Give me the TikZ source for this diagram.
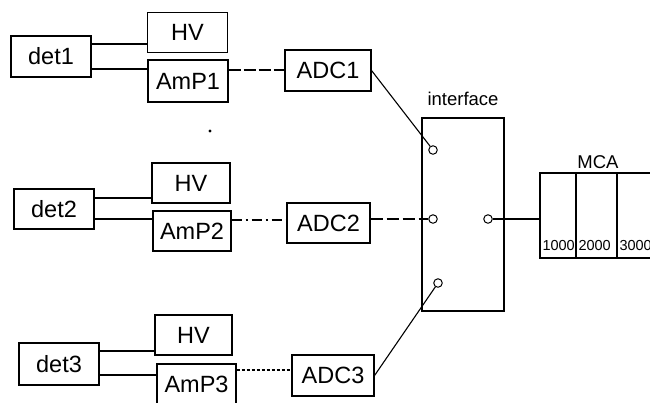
\documentclass[tikz,border=0pt]{standalone}
\usepackage{fontspec}
\setmainfont{Liberation Sans}
\begin{document}
\begin{tikzpicture}[x=1pt,y=-1pt,line width=1.1pt,
  blk/.style={draw,rectangle,inner sep=0pt,font=\fontsize{23.5}{28}\selectfont},
  port/.style={draw,circle,inner sep=0pt,minimum size=8.5pt,line width=1pt},
  lbl/.style={inner sep=0pt,font=\fontsize{18.5}{22}\selectfont},
  num/.style={inner sep=0pt,anchor=base west,font=\fontsize{14.5}{17}\selectfont}]
\useasboundingbox (0,0) rectangle (650,402);
% row 1
\node[blk,minimum width=80pt,minimum height=41pt] (det1) at (51,56.5) {det1};
\node[blk,minimum width=80pt,minimum height=40pt] (hv1) at (187.5,32.5) {HV};
\node[blk,minimum width=80pt,minimum height=42pt] (amp1) at (188,81) {AmP1};
\node[blk,minimum width=86pt,minimum height=41pt] (adc1) at (328,70.5) {ADC1};
% row 2
\node[blk,minimum width=80pt,minimum height=40pt] (det2) at (54,209) {det2};
\node[blk,minimum width=78pt,minimum height=40pt] (hv2) at (191,183) {HV};
\node[blk,minimum width=78pt,minimum height=40pt] (amp2) at (192,231) {AmP2};
\node[blk,minimum width=83pt,minimum height=40pt] (adc2) at (328.5,223) {ADC2};
% row 3
\node[blk,minimum width=80pt,minimum height=42pt] (det3) at (59,364) {det3};
\node[blk,minimum width=77pt,minimum height=40pt] (hv3) at (193.5,335) {HV};
\node[blk,minimum width=79pt,minimum height=40pt] (amp3) at (196.5,384) {AmP3};
\node[blk,minimum width=82pt,minimum height=41pt] (adc3) at (333,375.5) {ADC3};
% stray dot
\fill (210,131) circle (1.6pt);
% interface
\node[draw,rectangle,minimum width=82pt,minimum height=193pt] (intf) at (463,214.5) {};
\node[lbl] (intfl) at (463,99) {interface};
\node[port] (c1) at (433,150) {};
\node[port] (c2) at (433,219) {};
\node[port] (c3) at (488,219) {};
\node[port] (c4) at (438,283) {};
% MCA
\node[draw,rectangle,minimum width=140pt,minimum height=85pt] (mca) at (610,215.5) {};
\node[lbl] (mcal) at (598,162) {MCA};
\draw (576,173) -- (576,258) (617,173) -- (617,258);
\node[num] (n1) at (542,250) {1000};
\node[num] (n2) at (578,250) {2000};
\node[num] (n3) at (619,250) {3000};
% connectors row 1
\draw ([yshift=12.5pt]det1.east) -- ([yshift=12.5pt]det1.east -| hv1.west);
\draw ([yshift=-12.5pt]det1.east) -- ([yshift=-12.5pt]det1.east -| amp1.west);
\draw[dash pattern=on 12pt off 3pt] ([yshift=11pt]amp1.east) -- ([yshift=11pt]amp1.east -| adc1.west);
% row 2
\draw ([yshift=11pt]det2.east) -- ([yshift=11pt]det2.east -| hv2.west);
\draw ([yshift=-10pt]det2.east) -- ([yshift=-10pt]det2.east -| amp2.west);
\draw[dash pattern=on 10pt off 4pt on 2pt off 4pt] ([yshift=11pt]amp2.east) -- ([yshift=11pt]amp2.east -| adc2.west);
% row 3
\draw ([yshift=13pt]det3.east) -- ([yshift=13pt]det3.east -| hv3.west);
\draw ([yshift=-11pt]det3.east) -- ([yshift=-11pt]det3.east -| amp3.west);
\draw[dash pattern=on 3pt off 2pt] ([yshift=14pt]amp3.east) -- ([yshift=14pt]amp3.east -| adc3.west);
% to interface
\draw (adc1.east) -- (c1);
\draw[dash pattern=on 12pt off 4pt] (adc2.east |- c2) -- (c2);
\draw (adc3.east) -- (c4);
\draw (c3) -- (c3 -| mca.west);
\end{tikzpicture}
\end{document}
